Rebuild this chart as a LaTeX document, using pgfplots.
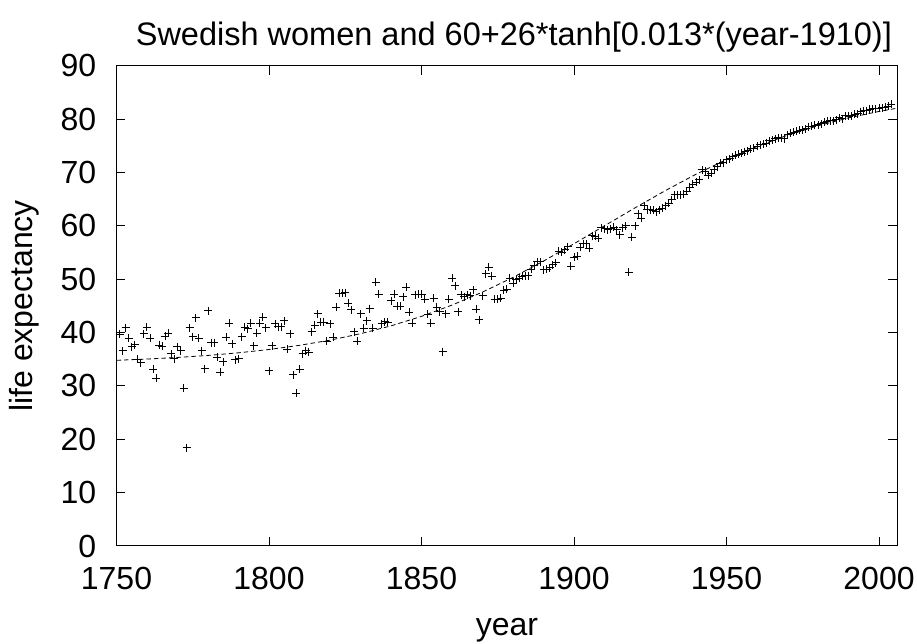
\documentclass[border=0pt]{standalone}
\usepackage{fontspec}
\setmainfont{Liberation Sans}
\usepackage{pgfplots}
\pgfplotsset{compat=1.18}
\begin{document}
\fontsize{32}{38}\selectfont
\begin{tikzpicture}
\useasboundingbox (-116.5pt,-98pt) rectangle (800.5pt,546pt);
\begin{axis}[
  at={(0pt,0pt)}, anchor=south west,
  scale only axis, width=780.8pt, height=480.3pt,
  xmin=1750, xmax=2006, ymin=0, ymax=90,
  xtick={1750,1800,...,2000}, ytick={0,10,...,90},
  minor tick num=0,
  tick align=inside, major tick length=9pt,
  axis line style={line width=1pt},
  every tick/.style={line width=1pt, black},
  /pgf/number format/assume math mode=true,
  /pgf/number format/1000 sep={},
  xticklabel style={yshift=-10pt},
  yticklabel style={xshift=-9.4pt},
  title={Swedish women and 60+26*tanh[0.013*(year-1910)]},
  title style={at={(axis description cs:0.5,1)}, anchor=base, yshift=14pt, xshift=7pt, font=\fontsize{32.5}{39}\selectfont},
  xlabel={year}, ylabel={life expectancy},
  xlabel style={at={(axis description cs:0.5,-0.1853)}, anchor=base},
  ylabel style={at={(axis description cs:-0.1185,0.5)}, anchor=center},
  clip=true
]
\addplot[black, line width=0.8pt, dash pattern=on 4.5pt off 3pt] coordinates {
(1750,34.80)(1760,35.03)(1770,35.33)(1780,35.71)(1790,36.20)(1800,36.82)
(1810,37.60)(1820,38.57)(1830,39.78)(1840,41.25)(1850,43.03)(1860,45.14)
(1870,47.58)(1880,50.34)(1890,53.39)(1900,56.64)(1910,60.00)(1920,63.36)
(1930,66.61)(1940,69.66)(1950,72.42)(1960,74.86)(1970,76.97)(1980,78.75)
(1990,80.22)(2000,81.43)(2006,82.04)};
\addplot[only marks, black, mark=+, mark size=4pt, mark options={line width=1pt}] coordinates {
(1751,39.7)(1752,36.6)(1753,40.9)(1754,38.9)(1755,37.3)(1756,37.7)(1757,35.0)(1758,34.3)(1759,39.75)(1760,41.0)
(1761,38.9)(1762,33.1)(1763,31.4)(1764,37.6)(1765,37.4)(1766,39.3)(1767,39.9)(1768,36.0)(1769,35.1)(1770,37.3)
(1771,36.6)(1772,29.6)(1773,18.4)(1774,40.9)(1775,39.25)(1776,42.75)(1777,38.9)(1778,36.6)(1779,33.25)(1780,44.1)
(1781,38.1)(1782,38.1)(1783,35.4)(1784,32.6)(1785,34.5)(1786,39.1)(1787,41.7)(1788,37.9)(1789,34.9)(1790,35.1)
(1791,39.25)(1792,41.0)(1793,40.7)(1794,41.75)(1795,37.5)(1796,39.9)(1797,41.75)(1798,42.9)(1799,40.9)(1800,32.8)
(1801,37.5)(1802,41.6)(1803,41.1)(1804,41.1)(1805,42.2)(1806,36.9)(1807,39.75)(1808,32.1)(1809,28.6)(1810,33.1)
(1811,36.0)(1812,36.6)(1813,36.3)(1814,40.1)(1815,41.4)(1816,43.5)(1817,41.9)(1818,41.9)(1819,38.4)(1820,41.6)
(1821,39.1)(1822,44.7)(1823,47.4)(1824,47.4)(1825,47.5)(1826,45.5)(1827,44.25)(1828,40.1)(1829,38.4)(1830,43.5)
(1831,40.8)(1832,42.25)(1833,44.5)(1834,40.8)(1835,49.4)(1836,47.2)(1837,41.6)(1838,42.0)(1839,41.9)(1840,46.0)
(1841,47.2)(1842,44.9)(1843,44.9)(1844,46.75)(1845,48.5)(1846,43.8)(1847,41.75)(1848,47.1)(1849,47.2)(1850,47.2)
(1851,46.25)(1852,43.4)(1853,41.75)(1854,46.4)(1855,44.75)(1856,43.9)(1857,36.4)(1858,43.5)(1859,46.25)(1860,50.2)
(1861,48.75)(1862,43.9)(1863,47.1)(1864,46.75)(1865,47.1)(1866,46.9)(1867,48.0)(1868,44.4)(1869,42.4)(1870,46.9)
(1871,51.0)(1872,52.2)(1873,50.5)(1874,46.25)(1875,46.25)(1876,46.4)(1877,47.9)(1878,48.1)(1879,50.2)(1880,49.25)
(1881,49.9)(1882,50.2)(1883,50.5)(1884,50.6)(1885,50.6)(1886,51.9)(1887,52.6)(1888,53.25)(1889,53.25)(1890,51.75)
(1891,51.9)(1892,52.1)(1893,52.7)(1894,53.1)(1895,55.2)(1896,55.0)(1897,55.5)(1898,56.1)(1899,52.4)(1900,54.1)
(1901,54.25)(1902,56.0)(1903,56.6)(1904,56.6)(1905,55.8)(1906,58.1)(1907,58.0)(1908,57.7)(1909,59.6)(1910,59.4)
(1911,59.25)(1912,59.4)(1913,59.75)(1914,59.25)(1915,58.3)(1916,59.6)(1917,60.0)(1918,51.25)(1919,57.9)(1920,60.0)
(1921,62.25)(1922,61.4)(1923,63.75)(1924,63.0)(1925,63.0)(1926,62.9)(1927,62.6)(1928,63.0)(1929,63.3)(1930,63.8)
(1931,64.2)(1932,64.9)(1933,65.8)(1934,65.8)(1935,65.8)(1936,65.9)(1937,66.5)(1938,67.2)(1939,67.8)(1940,68.2)
(1941,68.6)(1942,70.5)(1943,70.2)(1944,69.5)(1945,69.8)(1946,70.6)(1947,71.1)(1948,71.7)(1949,71.8)(1950,72.4)
(1951,72.6)(1952,72.9)(1953,73.2)(1954,73.4)(1955,73.6)(1956,73.9)(1957,74.1)(1958,74.4)(1959,74.5)(1960,74.9)
(1961,75.2)(1962,75.3)(1963,75.5)(1964,75.9)(1965,76.0)(1966,76.3)(1967,76.5)(1968,76.4)(1969,76.3)(1970,77.1)
(1971,77.3)(1972,77.5)(1973,77.7)(1974,77.9)(1975,78.0)(1976,78.2)(1977,78.6)(1978,78.7)(1979,78.8)(1980,78.9)
(1981,79.1)(1982,79.4)(1983,79.6)(1984,79.7)(1985,79.7)(1986,79.9)(1987,80.2)(1988,80.1)(1989,80.6)(1990,80.5)
(1991,80.6)(1992,80.9)(1993,81.0)(1994,81.4)(1995,81.6)(1996,81.6)(1997,81.8)(1998,81.9)(1999,81.9)(2000,82.0)
(2001,82.1)(2002,82.2)(2003,82.4)(2004,82.8)};
\end{axis}
\end{tikzpicture}
\end{document}
